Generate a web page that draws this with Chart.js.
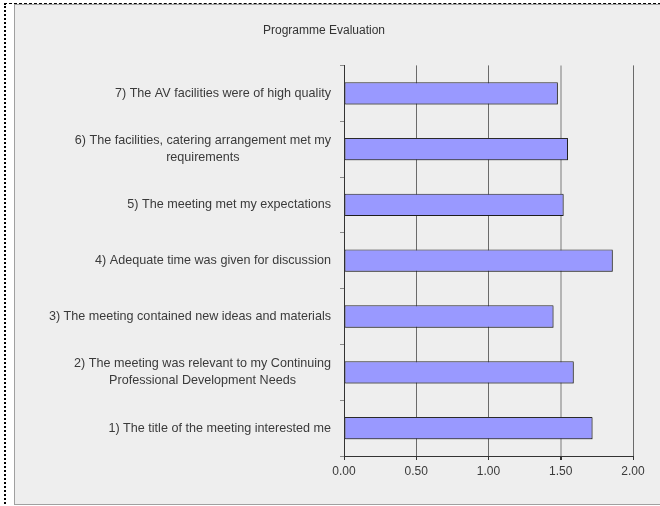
<!DOCTYPE html>
<html>
<head>
<meta charset="utf-8">
<script src="https://cdn.jsdelivr.net/npm/chart.js@4"></script>
<style>
  html,body{margin:0;padding:0;background:#fff;width:660px;height:506px;overflow:hidden;}
  #frame{position:absolute;left:4px;top:3px;width:680px;height:520px;border-left:2px dotted #000;border-top:1px dashed #000;}
  #panel{position:absolute;left:14px;top:4px;width:660px;height:499px;background:#eeeeee;border:1px solid #a0a0a0;}
  #wrap{position:absolute;left:0;top:0;width:646px;height:500px;}
</style>
</head>
<body>
<div id="frame"></div>
<div id="panel"><div id="wrap"><canvas id="chart" width="646" height="500"></canvas></div></div>
<script>
// categories listed top to bottom as in the picture
const categories = [
  '7) The AV facilities were of high quality',
  ['6) The facilities, catering arrangement met my', 'requirements'],
  '5) The meeting met my expectations',
  '4) Adequate time was given for discussion',
  '3) The meeting contained new ideas and materials',
  ['2) The meeting was relevant to my Continuing', 'Professional Development Needs'],
  '1) The title of the meeting interested me'
];
const scores = [1.48, 1.55, 1.52, 1.86, 1.45, 1.59, 1.72];
const xTicks = [0, 0.5, 1, 1.5, 2];

const FONT = '"Liberation Sans", Arial, sans-serif';

// y labels: block right-aligned, lines centred inside the block
const blockLabels = {
  id:'blockLabels',
  afterDraw(chart){
    const ctx = chart.ctx, ys = chart.scales.y;
    ctx.save();
    ctx.font = '12.6px ' + FONT; ctx.fillStyle = '#3a3a3a';
    ctx.textAlign = 'center'; ctx.textBaseline = 'middle';
    const right = ys.right - 13;
    categories.forEach((lab,i)=>{
      const lines = Array.isArray(lab) ? lab : [lab];
      const w = Math.max(...lines.map(l=>ctx.measureText(l).width));
      const cy = ys.getPixelForTick(i);
      lines.forEach((l,j)=> ctx.fillText(l, right - w/2, cy + (j-(lines.length-1)/2)*16.7));
    });
    ctx.restore();
  }
};

// small drop shadow under the bars
const barShadow = {
  id:'barShadow',
  beforeDatasetDraw(chart){ const c=chart.ctx; c.save(); c.shadowColor='rgba(0,0,0,0.3)'; c.shadowOffsetX=1; c.shadowOffsetY=1; c.shadowBlur=0; },
  afterDatasetDraw(chart){ chart.ctx.restore(); }
};

new Chart(document.getElementById('chart'), {
  type:'bar',
  data:{ labels:categories, datasets:[{ data:scores, backgroundColor:'#9999ff', borderColor:'#2a2a2a', borderWidth:1, borderSkipped:false, barPercentage:0.4, categoryPercentage:1 }] },
  options:{
    indexAxis:'y', responsive:false, animation:false, devicePixelRatio:1,
    layout:{ padding:{ left:0, right:28, top:0, bottom:0 } },
    plugins:{
      legend:{display:false}, tooltip:{enabled:false},
      title:{ display:true, text:'Programme Evaluation', color:'#333333', font:{family:FONT, size:12, weight:'normal'}, padding:{top:18, bottom:28} }
    },
    scales:{
      x:{
        min:0, max:2,
        afterFit:(s)=>{ s.height = 49; },
        afterBuildTicks:(s)=>{ s.ticks = xTicks.map(v=>({value:v})); },
        ticks:{ callback:(v)=>Number(v).toFixed(2), color:'#3a3a3a', font:{family:FONT, size:12}, padding:4, maxRotation:0 },
        grid:{ color:(c)=> c.tick && c.tick.value===1.5 ? '#b4b4b4' : '#6a6a6a', lineWidth:(c)=> c.tick && c.tick.value===1.5 ? 2 : 1, tickLength:4, tickColor:'#333333' },
        border:{ color:'#333333', width:1 }
      },
      y:{
        afterFit:(s)=>{ s.width = 329; },
        ticks:{ display:false },
        grid:{ drawOnChartArea:false, tickLength:4, color:'#8a8a8a', offset:true },
        border:{ color:'#333333', width:1 }
      }
    }
  },
  plugins:[blockLabels, barShadow]
});
</script>
</body>
</html>
